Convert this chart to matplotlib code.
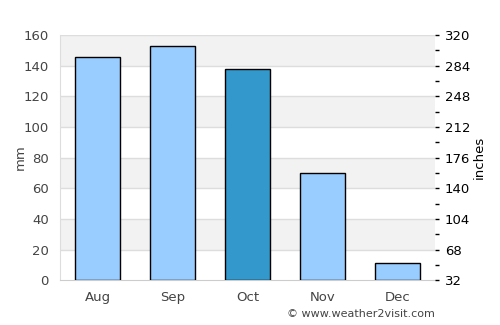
import matplotlib
matplotlib.use("Agg")
import matplotlib.pyplot as plt
from matplotlib.ticker import MultipleLocator

months = ["Aug", "Sep", "Oct", "Nov", "Dec"]
rain_mm = [146, 153, 138, 70, 11]
bar_colors = ["#99ccff", "#99ccff", "#3399cc", "#99ccff", "#99ccff"]
left_ticks = [0, 20, 40, 60, 80, 100, 120, 140, 160]
right_labels = ["32", "68", "104", "140", "176", "212", "248", "284", "320"]

fig = plt.figure(figsize=(5, 3.25), dpi=100)
ax = fig.add_axes([0.12, 0.138, 0.75, 0.754])

ax.set_xlim(-0.5, len(months) - 0.5)
ax.set_ylim(0, 160)

# alternating bands
for i in range(len(left_ticks) - 1):
    if i % 2 == 1:
        ax.axhspan(left_ticks[i], left_ticks[i + 1], color="#f2f2f2", zorder=0, lw=0)
for t in left_ticks[1:]:
    ax.axhline(t, color="#dddddd", lw=1, zorder=1)

ax.bar(range(len(months)), rain_mm, width=0.6, color=bar_colors,
       edgecolor="black", linewidth=1, zorder=3)

ax.set_xticks(range(len(months)))
ax.set_xticklabels(months)
ax.set_yticks(left_ticks)
ax.tick_params(axis="x", length=0, colors="#444444", labelsize=9.5, pad=8)
ax.tick_params(axis="y", length=0, colors="#444444", labelsize=9.5, pad=8)
for s in ["top", "right"]:
    ax.spines[s].set_visible(False)
ax.spines["left"].set_color("#dddddd")
ax.spines["bottom"].set_color("#cccccc")
ax.set_ylabel("mm", color="#444444", fontsize=9.5, labelpad=-2)

ax2 = ax.twinx()
ax2.set_ylim(0, 160)
ax2.set_yticks(left_ticks)
ax2.set_yticklabels(right_labels)
ax2.yaxis.set_minor_locator(MultipleLocator(10))
ax2.tick_params(axis="y", which="major", length=3, width=1, colors="black",
                labelsize=9.5, pad=4, direction="out")
ax2.tick_params(axis="y", which="minor", length=3, width=1, colors="black",
                direction="out")
for s in ["top", "right", "left", "bottom"]:
    ax2.spines[s].set_visible(False)
ax2.set_ylabel("inches", color="black", fontsize=9.5, labelpad=2)

fig.text(0.87, 0.035, "© www.weather2visit.com", ha="right", va="center",
         fontsize=8, color="#444444")

fig.savefig("out.png", dpi=100)
